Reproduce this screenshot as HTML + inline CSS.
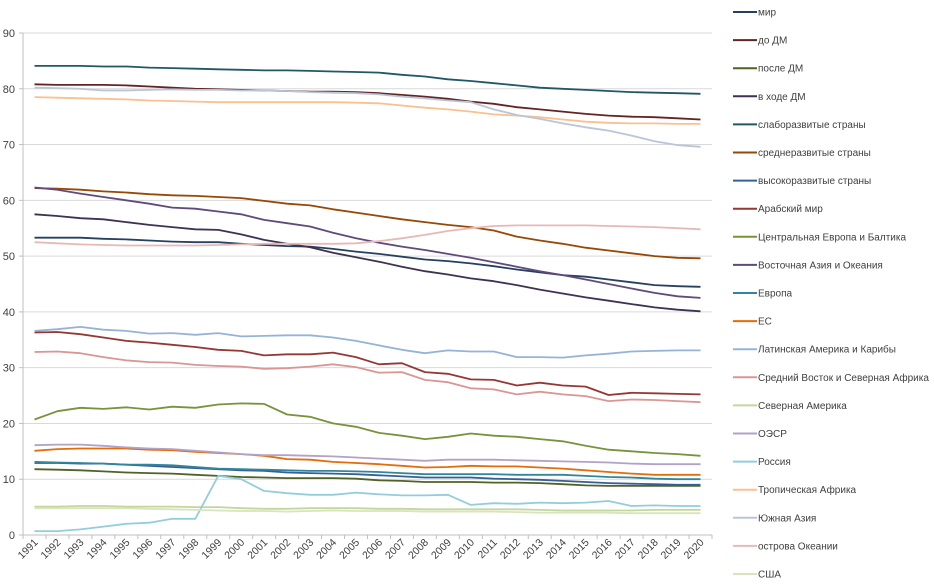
<!DOCTYPE html>
<html><head><meta charset="utf-8"><style>
html,body{margin:0;padding:0;background:#fff;}
svg{display:block;font-family:"Liberation Sans",sans-serif;}
</style></head><body>
<svg id="chart" width="934" height="584" viewBox="0 0 934 584" xmlns="http://www.w3.org/2000/svg">
<g id="grid"></g>
<g id="yaxis"></g>
<g id="xaxis"></g>
<g id="series"></g>
<g id="legend"></g>
</svg>
<script>
const years = [1991,1992,1993,1994,1995,1996,1997,1998,1999,2000,2001,2002,2003,2004,2005,2006,2007,2008,2009,2010,2011,2012,2013,2014,2015,2016,2017,2018,2019,2020];
const yTicks = [0,10,20,30,40,50,60,70,80,90];
const seriesNames = ["мир","до ДМ","после ДМ","в ходе ДМ","слаборазвитые страны","среднеразвитые страны","высокоразвитые страны","Арабский мир","Центральная Европа и Балтика","Восточная Азия и Океания","Европа","ЕС","Латинская Америка и Карибы","Средний Восток и Северная Африка","Северная Америка","ОЭСР","Россия","Тропическая Африка","Южная Азия","острова Океании","США"];
const seriesColors = ["#254061","#632523","#4F6228","#3F3151","#205867","#974806","#376092","#953735","#77933C","#604A7B","#31859C","#E46C0A","#95B3D7","#D99694","#C3D69B","#B3A2C7","#93CDDD","#FAC090","#B9C5D8","#E6B9B8","#D7E4BD"];
const sMir = [53.3,53.3,53.3,53.1,53,52.8,52.6,52.5,52.5,52.2,52,51.8,51.7,51.3,50.8,50.4,49.9,49.4,49.1,48.7,48.2,47.6,47.1,46.6,46.3,45.8,45.3,44.8,44.6,44.5];
const sDoDM = [80.8,80.7,80.7,80.7,80.6,80.4,80.2,80,79.9,79.8,79.7,79.6,79.5,79.5,79.4,79.2,78.9,78.6,78.2,77.7,77.3,76.7,76.3,75.9,75.5,75.2,75,74.9,74.7,74.5];
const sPosleDM = [11.8,11.7,11.6,11.4,11.2,11.1,11,10.8,10.6,10.4,10.3,10.2,10.2,10.2,10.1,9.8,9.7,9.5,9.5,9.5,9.4,9.4,9.3,9.1,8.9,8.8,8.8,8.8,8.8,8.8];
const sVhodeDM = [57.5,57.2,56.8,56.6,56.1,55.6,55.2,54.8,54.7,53.9,52.9,52.2,51.6,50.6,49.8,49,48.1,47.3,46.7,46,45.5,44.8,44,43.3,42.6,42,41.4,40.8,40.4,40.1];
const sSlabo = [84.1,84.1,84.1,84,84,83.8,83.7,83.6,83.5,83.4,83.3,83.3,83.2,83.1,83,82.9,82.5,82.2,81.7,81.4,81,80.6,80.2,80,79.8,79.6,79.4,79.3,79.2,79.1];
const sSredne = [62.2,62.1,61.9,61.6,61.4,61.1,60.9,60.8,60.6,60.4,59.9,59.4,59.1,58.4,57.8,57.2,56.6,56.1,55.6,55.2,54.6,53.5,52.8,52.2,51.5,51,50.5,50,49.7,49.6];
const sVysoko = [12.9,12.9,12.8,12.8,12.6,12.4,12.2,12,11.8,11.6,11.5,11.2,11.1,11,10.9,10.7,10.5,10.3,10.3,10.3,10.1,10,9.9,9.7,9.5,9.3,9.2,9.1,9,9];
const sArab = [36.3,36.4,36,35.4,34.8,34.5,34.1,33.7,33.2,33,32.2,32.4,32.4,32.7,31.9,30.6,30.8,29.2,28.9,27.9,27.8,26.8,27.3,26.8,26.6,25.1,25.5,25.4,25.3,25.2];
const sCentrEur = [20.7,22.2,22.8,22.6,22.9,22.5,23,22.8,23.4,23.6,23.5,21.6,21.2,20,19.4,18.3,17.8,17.2,17.6,18.2,17.8,17.6,17.2,16.8,16,15.3,15,14.7,14.5,14.2];
const sEastAsia = [62.3,61.9,61.2,60.6,60,59.4,58.7,58.5,58,57.5,56.5,55.9,55.3,54.2,53.2,52.4,51.7,51.1,50.4,49.7,48.9,48.1,47.3,46.6,45.8,45,44.2,43.4,42.8,42.5];
const sEurope = [13.1,13,12.9,12.8,12.6,12.6,12.5,12.2,11.9,11.8,11.7,11.6,11.5,11.5,11.4,11.3,11.1,10.9,10.9,10.9,10.9,10.8,10.8,10.8,10.6,10.4,10.3,10.1,10,10];
const sEU = [15.1,15.4,15.5,15.5,15.5,15.3,15.2,14.9,14.7,14.5,14.2,13.6,13.5,13.1,12.9,12.7,12.4,12.1,12.2,12.4,12.3,12.3,12.1,11.9,11.6,11.3,11,10.8,10.8,10.8];
const sLatAm = [36.6,36.9,37.3,36.8,36.6,36.1,36.2,35.9,36.2,35.6,35.7,35.8,35.8,35.4,34.8,34,33.2,32.6,33.1,32.9,32.9,31.9,31.9,31.8,32.2,32.5,32.9,33,33.1,33.1];
const sMENA = [32.8,32.9,32.6,31.9,31.3,31,30.9,30.5,30.3,30.2,29.8,29.9,30.2,30.6,30.1,29.1,29.2,27.8,27.4,26.3,26.1,25.2,25.7,25.2,24.9,24,24.3,24.2,24,23.8];
const sNorthAm = [5.1,5.1,5.2,5.2,5.1,5.1,5.1,5,5,4.8,4.7,4.7,4.8,4.8,4.8,4.7,4.7,4.6,4.6,4.6,4.6,4.6,4.5,4.4,4.4,4.4,4.4,4.5,4.5,4.5];
const sOECD = [16.1,16.2,16.2,16,15.7,15.5,15.4,15.1,14.8,14.5,14.3,14.3,14.2,14.1,13.9,13.7,13.5,13.3,13.5,13.5,13.5,13.4,13.3,13.2,13.1,13,12.8,12.7,12.7,12.7];
const sRussia = [0.7,0.7,1,1.5,2,2.2,2.9,2.9,10.6,10,7.9,7.5,7.2,7.2,7.6,7.3,7.1,7.1,7.2,5.4,5.7,5.6,5.8,5.7,5.8,6.1,5.2,5.3,5.2,5.2];
const sTropAfr = [78.5,78.4,78.3,78.2,78.1,77.9,77.8,77.7,77.6,77.6,77.6,77.6,77.6,77.6,77.5,77.4,77,76.6,76.3,75.9,75.4,75.2,74.9,74.5,74.1,73.9,73.8,73.8,73.7,73.7];
const sSouthAsia = [80.2,80.1,80,79.7,79.7,79.8,79.9,79.8,79.8,79.7,79.7,79.6,79.4,79.3,79.2,79,78.6,78.3,77.9,77.6,76.3,75.3,74.6,73.8,73.1,72.5,71.6,70.6,69.9,69.6];
const sOceania = [52.5,52.3,52.1,52,51.9,51.9,51.9,51.9,52,52.1,52.2,52.2,52.2,52.2,52.3,52.7,53.2,53.8,54.5,55,55.4,55.5,55.5,55.5,55.5,55.4,55.3,55.2,55,54.8];
const sUSA = [4.8,4.8,4.8,4.8,4.8,4.7,4.6,4.5,4.4,4.3,4.3,4.2,4.3,4.4,4.3,4.3,4.3,4.2,4.2,4.2,4.2,4.1,4,4,4,4,3.9,3.9,3.9,3.9];
const seriesValues = [sMir,sDoDM,sPosleDM,sVhodeDM,sSlabo,sSredne,sVysoko,sArab,sCentrEur,sEastAsia,sEurope,sEU,sLatAm,sMENA,sNorthAm,sOECD,sRussia,sTropAfr,sSouthAsia,sOceania,sUSA];

const NS = "http://www.w3.org/2000/svg";
const plotL = 23, plotR = 712, yTop = 33, yBot = 535, yMax = 90;
const band = (plotR - plotL) / years.length;
function xPos(i){ return plotL + band * (i + 0.5); }
function yPos(v){ return yBot - (v / yMax) * (yBot - yTop); }
function mk(tag, attrs, parent){ const e = document.createElementNS(NS, tag); for (const k in attrs) e.setAttribute(k, attrs[k]); parent.appendChild(e); return e; }

const grid = document.getElementById('grid'), yax = document.getElementById('yaxis'), xax = document.getElementById('xaxis');
yTicks.forEach(t => {
  const y = yPos(t);
  const gl = mk('line', {x1: plotL, x2: plotR, y1: y, y2: y, stroke: t === 0 ? '#bfbfbf' : '#d9d9d9', 'stroke-width': 1}, grid);
  
  
  mk('line', {x1: plotL - 4, x2: plotL, y1: y, y2: y, stroke: '#bfbfbf'}, yax);
  const tx = mk('text', {x: 15, y: y + 4, 'text-anchor': 'end', 'font-size': 11, fill: '#404040'}, yax);
  tx.textContent = t;
  
  
});
mk('line', {x1: plotL, x2: plotL, y1: yTop, y2: yBot, stroke: '#bfbfbf'}, yax);
for (let i = 0; i <= years.length; i++) {
  const x = plotL + band * i;
  mk('line', {x1: x, x2: x, y1: yBot, y2: yBot + 4, stroke: '#bfbfbf'}, xax);
}
years.forEach((yr, i) => {
  const x = xPos(i) + 4, y = yBot + 8;
  const tx = mk('text', {x: x, y: y, 'text-anchor': 'end', 'font-size': 10.5, fill: '#404040', transform: 'rotate(-45 ' + x + ' ' + y + ')'}, xax);
  tx.textContent = yr;
  
  
});

const sg = document.getElementById('series'), lg = document.getElementById('legend');
seriesValues.forEach((vals, s) => {
  const d = vals.map((v, i) => (i ? 'L' : 'M') + xPos(i).toFixed(1) + ' ' + yPos(v).toFixed(1)).join(' ');
  const p = mk('path', {d: d, fill: 'none', stroke: seriesColors[s], 'stroke-width': 1.8, 'stroke-linejoin': 'round'}, sg);
  
  
  const ly = 12 + s * 28.1;
  const g = mk('g', {}, lg);
  
  
  mk('line', {x1: 733, x2: 757, y1: ly, y2: ly, stroke: seriesColors[s], 'stroke-width': 2}, g);
  const t = mk('text', {x: 758, y: ly + 3.5, 'font-size': 10, fill: '#404040'}, g);
  t.textContent = seriesNames[s];
});
</script>
</body></html>
